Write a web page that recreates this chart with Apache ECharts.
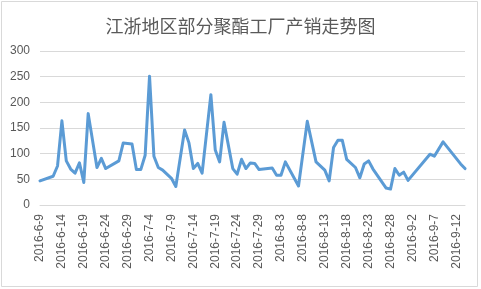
<!DOCTYPE html>
<html>
<head>
<meta charset="utf-8">
<script src="https://cdn.jsdelivr.net/npm/echarts@6/dist/echarts.min.js"></script>
<style>
html,body{margin:0;padding:0;background:#fff;}
#main{width:481px;height:289px;}
</style>
</head>
<body>
<div id="main"></div>
<script>
var titleText = '江浙地区部分聚酯工厂产销走势图';
var firstDay = '2016-6-9';
var lastDay = '2016-9-14';
var obsDates = ['6-9','6-12','6-13','6-14','6-15','6-16','6-17','6-18','6-19','6-20','6-22','6-23','6-24','6-27','6-28','6-30',
  '7-1','7-2','7-3','7-4','7-5','7-6','7-7','7-9','7-10','7-12','7-13','7-14','7-15','7-16','7-18','7-19','7-20','7-21','7-23','7-24','7-25','7-26','7-27','7-28','7-29',
  '8-1','8-2','8-3','8-4','8-7','8-9','8-11','8-13','8-14','8-15','8-16','8-17','8-18','8-20','8-21','8-22','8-23','8-24','8-27','8-28','8-29','8-30','8-31',
  '9-1','9-6','9-7','9-9','9-13','9-14'];
var obsValues = [47,56,76,164,86,70,62,82,44,178,73,91,71,86,121,119,
  69,69,97,251,95,73,68,52,36,146,121,71,81,62,215,107,84,161,71,60,89,71,82,81,69,
  72,58,58,84,37,163,84,68,47,112,126,126,89,73,53,80,86,70,33,31,71,58,64,
  48,99,95,123,80,71];
var yTicks = [0,50,100,150,200,250,300];

// build daily category axis
var categories = [];
var lookup = {};
obsDates.forEach(function(d,i){ lookup['2016-' + d] = obsValues[i]; });
var p = firstDay.split('-').map(Number);
var cur = new Date(p[0], p[1]-1, p[2]);
var q = lastDay.split('-').map(Number);
var end = new Date(q[0], q[1]-1, q[2]);
while (cur <= end) {
  categories.push(cur.getFullYear() + '-' + (cur.getMonth()+1) + '-' + cur.getDate());
  cur.setDate(cur.getDate()+1);
}
var seriesData = categories.map(function(c){ return lookup.hasOwnProperty(c) ? lookup[c] : null; });

var chart = echarts.init(document.getElementById('main'), null, {renderer:'canvas'});
chart.setOption({
  animation: false,
  backgroundColor: '#ffffff',
  textStyle: {fontFamily: '"Noto Sans CJK SC", "Noto Sans", sans-serif'},
  title: {
    text: titleText,
    left: 'center',
    top: 12,
    textStyle: {fontSize: 18, fontWeight: 'normal', color: '#595959', fontFamily: '"Noto Sans CJK SC", sans-serif'}
  },
  graphic: [{
    type: 'rect',
    shape: {x: 1.5, y: 1.5, width: 476, height: 285},
    style: {fill: 'none', stroke: '#D9D9D9', lineWidth: 1},
    silent: true
  }],
  grid: {left: 40, right: 16, top: 51, bottom: 84, containLabel: false},
  xAxis: {
    type: 'category',
    data: categories,
    boundaryGap: false,
    axisLine: {lineStyle: {color: '#D9D9D9'}},
    axisTick: {show: false},
    axisLabel: {interval: 4, rotate: 90, color: '#595959', fontSize: 12, margin: 9, fontFamily: '"Liberation Sans", Arial, sans-serif'}
  },
  yAxis: {
    type: 'value',
    min: yTicks[0],
    max: yTicks[yTicks.length-1],
    interval: 50,
    axisLine: {show: false},
    axisTick: {show: false},
    splitLine: {lineStyle: {color: '#D9D9D9'}},
    axisLabel: {color: '#595959', fontSize: 12, margin: 10, fontFamily: '"Liberation Sans", Arial, sans-serif'}
  },
  series: [{
    type: 'line',
    data: seriesData,
    connectNulls: true,
    showSymbol: false,
    symbol: 'none',
    lineStyle: {color: '#5B9BD5', width: 3, join: 'round', cap: 'round'},
    itemStyle: {color: '#5B9BD5'}
  }]
});
</script>
</body>
</html>
